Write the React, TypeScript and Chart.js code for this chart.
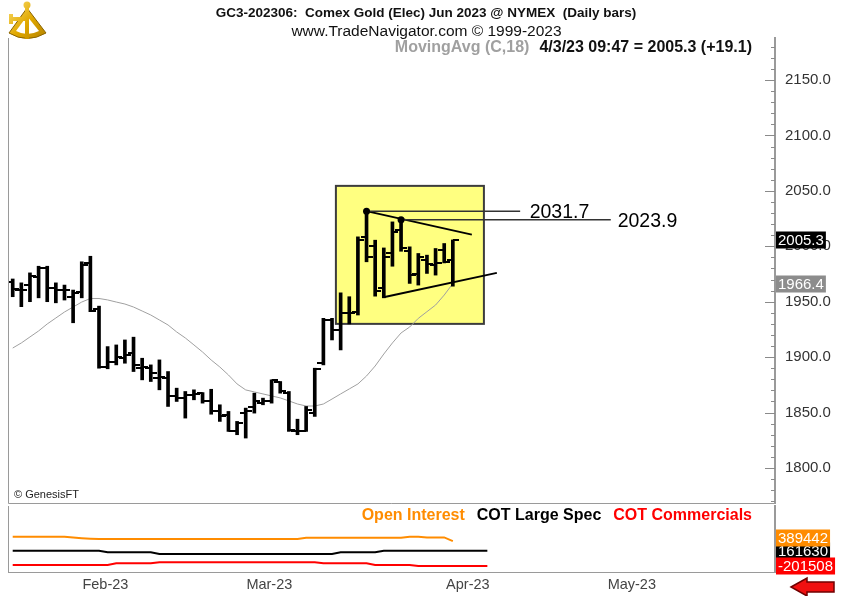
import React, { useEffect, useRef } from 'react';
import { Chart, registerables } from 'chart.js';

Chart.register(...registerables);

const FONT = "'Liberation Sans', Arial, Helvetica, sans-serif";

// ---- Daily OHLC bars (GC Jun 2023), Jan 19 .. Apr 3 2023 ----
const opens = [
  1968, 1960.5, 1965, 1972.5, 1980, 1962.5, 1960.5, 1954.5, 1959, 1985,
  1943, 1891.5, 1896, 1899, 1903.5, 1890, 1890, 1881, 1881, 1864.5,
  1863, 1866, 1867.5, 1860, 1851, 1848, 1833, 1849.5, 1855, 1858.5,
  1860, 1877.5, 1868, 1833, 1833.5, 1850, 1894.5, 1933.5, 1924.5, 1940,
  1941, 2008, 2000, 1962, 1993.5, 2015, 1996, 1975, 1988, 1983,
  1997, 1987.5,
];
const highs = [
  1970.5, 1967, 1976, 1982, 1982, 1967, 1965, 1960.5, 1986, 1991,
  1946, 1909.5, 1911, 1915.5, 1918, 1899, 1893, 1897.5, 1887, 1872,
  1869, 1870.5, 1868, 1871, 1857, 1851, 1842, 1854, 1867.5, 1863,
  1879.5, 1878, 1869, 1844, 1855.5, 1890, 1935, 1935, 1958, 1954.5,
  2008.5, 2031.7, 2005.5, 1998.5, 2022, 2023.9, 1999.5, 1993.5, 1992, 1998,
  2002.5, 2005.7,
];
const lows = [
  1954.5, 1945.5, 1950, 1953.5, 1950, 1949, 1951.5, 1931, 1953.5, 1941,
  1890, 1889.5, 1893, 1894.5, 1887, 1879.5, 1878, 1870.5, 1855.5, 1860,
  1845, 1861.5, 1858.5, 1848.5, 1842, 1833, 1830, 1827, 1849.5, 1857,
  1858.5, 1867.5, 1833, 1830, 1833, 1846.5, 1893, 1915.5, 1906.5, 1930,
  1938, 1986, 1955, 1953.5, 1982, 1995.5, 1966.5, 1965, 1975.5, 1974,
  1985, 1964,
];
const closes = [
  1961.5, 1961, 1973, 1980.5, 1962.5, 1960.5, 1961, 1958, 1983, 1942,
  1891.5, 1896, 1900.5, 1902, 1893, 1891.5, 1885.5, 1882.5, 1864.5, 1863,
  1866, 1867, 1860, 1851, 1846.5, 1833.5, 1840.5, 1851, 1860, 1860,
  1879, 1869, 1834, 1833, 1852.5, 1889, 1933.5, 1924.5, 1940, 1940,
  2006, 1990, 1960, 1990.5, 2013, 1998, 1974, 1990, 1984, 1985,
  1986.2, 2005.3,
];
// 18-period moving average of close
const movingAvg = [
  1908.2, 1912.8, 1918.2, 1923.6, 1929.9, 1935.3, 1940.7, 1945.2, 1949.7, 1952.9,
  1952.9, 1951.6, 1949.7, 1947.9, 1945.2, 1941.6, 1938.0, 1933.5, 1929.0, 1922.7,
  1917.3, 1911.0, 1904.6, 1897.4, 1891.1, 1883.9, 1875.8, 1870.4, 1868.6, 1866.8,
  1865.0, 1863.2, 1860.5, 1857.7, 1855.9, 1855.9, 1857.7, 1862.2, 1866.8, 1871.3,
  1875.8, 1883.0, 1892.0, 1902.8, 1912.8, 1921.8, 1927.2, 1935.0, 1941.0, 1947.0,
  1956.0, 1966.4,
];

// ---- lower panel (COT) ----
const openInterest = [
  491500, 491500, 491500, 491500, 491500, 491500, 491500, 475000, 460000, 448000,
  437000, 437000, 437000, 437000, 437000, 437000, 437000, 437000, 437000, 437000,
  437000, 437000, 437000, 437000, 437000, 437000, 437000, 437000, 437000, 437000,
  437000, 437000, 437000, 437000, 467800, 467800, 467800, 467800, 467800, 467800,
  467800, 467800, 467800, 467800, 467800, 467800, 491500, 491500, 477000, 477000,
  477000, 389442,
];
const cotLargeSpec = [
  161630, 161630, 161630, 161630, 161630, 161630, 161630, 161630, 161630, 161630,
  161630, 123700, 123700, 123700, 123700, 123700, 123700, 83300, 83300, 83300,
  83300, 83300, 83300, 83300, 83300, 83300, 83300, 83300, 83300, 83300,
  83300, 83300, 83300, 83300, 83300, 83300, 83300, 83300, 123700, 123700,
  123700, 123700, 123700, 161630, 161630, 161630, 161630, 161630, 161630, 161630,
  161630, 161630, 161630, 161630, 161630, 161630,
];
const cotCommercials = [
  -177800, -177800, -177800, -177800, -177800, -177800, -177800, -177800, -177800, -177800,
  -177800, -177800, -137400, -137400, -137400, -137400, -137400, -113700, -113700, -113700,
  -113700, -113700, -113700, -113700, -113700, -113700, -113700, -113700, -113700, -113700,
  -113700, -113700, -113700, -113700, -113700, -113700, -137400, -137400, -137400, -137400,
  -137400, -137400, -177800, -177800, -177800, -177800, -177800, -201508, -201508, -201508,
  -201508, -201508, -201508, -201508, -201508, -201508,
];

// ---- axes ----
const monthLabels = ['Feb-23', 'Mar-23', 'Apr-23', 'May-23'];
const monthStartIdx = [9, 28, 51, 70];
const priceTicks = [1800, 1850, 1900, 1950, 2000, 2050, 2100, 2150];
const X_MIN = -0.545;
const X_MAX = 88.33;
const PRICE_MIN = 1768.4;
const PRICE_MAX = 2187.9;
const COT_MIN = -343900;
const COT_MAX = 1222540;

// ---- annotations (data units) ----
const lastValue = 2005.3;
const maValue = 1966.4;
const highMarks = [
  { idx: 41, value: 2031.7, lineEnd: 58.8, textAt: 59.9 },
  { idx: 45, value: 2023.9, lineEnd: 69.3, textAt: 70.1 },
];
const box = { fromIdx: 37.45, toIdx: 54.6, low: 1930, high: 2054.5 };
const upperTrend = { fromIdx: 41, fromVal: 2031.7, toIdx: 53.2, toVal: 2010.5 };
const lowerTrend = { fromIdx: 43.1, fromVal: 1954.3, toIdx: 56.1, toVal: 1976 };

function makeTick(side: 'open' | 'close') {
  const c = document.createElement('canvas');
  c.width = 12;
  c.height = 2;
  const g = c.getContext('2d')!;
  g.fillStyle = '#000';
  if (side === 'open') g.fillRect(0, 0, 6, 2);
  else g.fillRect(6, 0, 6, 2);
  return c;
}

function drawBadge(ctx: CanvasRenderingContext2D, text: string, x: number, y: number, bg: string) {
  ctx.save();
  ctx.font = `15px ${FONT}`;
  const w = ctx.measureText(text).width + 4;
  ctx.fillStyle = bg;
  ctx.fillRect(x, Math.round(y) - 8.5, w, 17);
  ctx.fillStyle = '#fff';
  ctx.textBaseline = 'middle';
  ctx.textAlign = 'left';
  ctx.fillText(text, x + 2, Math.round(y) + 0.5);
  ctx.restore();
}

const noPad = (s: any) => {
  s.paddingTop = 0;
  s.paddingBottom = 0;
};

const priceDecor = {
  id: 'priceDecor',
  beforeDatasetsDraw(chart: any) {
    const { ctx, scales } = chart;
    const x = scales.x, y = scales.y;
    const x1 = x.getPixelForValue(box.fromIdx);
    const x2 = x.getPixelForValue(box.toIdx);
    const y1 = y.getPixelForValue(box.high);
    const y2 = y.getPixelForValue(box.low);
    ctx.save();
    ctx.fillStyle = '#FFFF80';
    ctx.fillRect(x1, y1, x2 - x1, y2 - y1);
    ctx.strokeStyle = '#3c3c3c';
    ctx.lineWidth = 2;
    ctx.strokeRect(x1, y1, x2 - x1, y2 - y1);
    ctx.restore();
  },
  afterDatasetsDraw(chart: any) {
    const { ctx, scales } = chart;
    const x = scales.x, y = scales.y;
    ctx.save();
    ctx.strokeStyle = '#000';
    ctx.lineWidth = 2;
    for (const t of [upperTrend, lowerTrend]) {
      ctx.beginPath();
      ctx.moveTo(x.getPixelForValue(t.fromIdx), y.getPixelForValue(t.fromVal));
      ctx.lineTo(x.getPixelForValue(t.toIdx), y.getPixelForValue(t.toVal));
      ctx.stroke();
    }
    ctx.strokeStyle = '#333';
    ctx.lineWidth = 1.5;
    for (const m of highMarks) {
      const py = y.getPixelForValue(m.value);
      ctx.beginPath();
      ctx.moveTo(x.getPixelForValue(m.idx), py);
      ctx.lineTo(x.getPixelForValue(m.lineEnd), py);
      ctx.stroke();
    }
    ctx.fillStyle = '#000';
    for (const m of highMarks) {
      ctx.beginPath();
      ctx.arc(x.getPixelForValue(m.idx), y.getPixelForValue(m.value), 3.5, 0, Math.PI * 2);
      ctx.fill();
    }
    ctx.font = `19.5px ${FONT}`;
    ctx.textBaseline = 'middle';
    ctx.textAlign = 'left';
    for (const m of highMarks) {
      ctx.fillText(m.value.toFixed(1), x.getPixelForValue(m.textAt), y.getPixelForValue(m.value) + 1.5);
    }
    ctx.restore();
  },
  afterDraw(chart: any) {
    const { ctx, chartArea, scales } = chart;
    const y = scales.y;
    ctx.save();
    // panel borders
    ctx.strokeStyle = '#9a9a9a';
    ctx.lineWidth = 1;
    ctx.beginPath();
    ctx.moveTo(8.5, chartArea.top);
    ctx.lineTo(8.5, chartArea.bottom + 0.5);
    ctx.lineTo(chartArea.right, chartArea.bottom + 0.5);
    ctx.stroke();
    // axis ticks (inside), every 10
    ctx.strokeStyle = '#8a8a8a';
    for (let v = 1770; v <= 2180; v += 10) {
      const py = Math.round(y.getPixelForValue(v)) + 0.5;
      const len = v % 50 === 0 ? 10 : 4;
      ctx.beginPath();
      ctx.moveTo(chartArea.right - len, py);
      ctx.lineTo(chartArea.right, py);
      ctx.stroke();
    }
    ctx.restore();
    drawBadge(ctx, lastValue.toFixed(1), chartArea.right + 1, y.getPixelForValue(lastValue), '#000');
    drawBadge(ctx, maValue.toFixed(1), chartArea.right + 1, y.getPixelForValue(maValue), '#8c8c8c');
    // logo (simple golden sextant)
    ctx.save();
    const grad = ctx.createLinearGradient(5, 0, 50, 45);
    grad.addColorStop(0, '#FFE680');
    grad.addColorStop(0.5, '#E0A800');
    grad.addColorStop(1, '#A87800');
    ctx.fillStyle = grad;
    ctx.strokeStyle = '#8a6400';
    ctx.lineWidth = 1;
    ctx.beginPath();
    ctx.moveTo(27, 8);
    ctx.lineTo(9, 33);
    ctx.quadraticCurveTo(27, 44, 46, 33);
    ctx.closePath();
    ctx.fill();
    ctx.stroke();
    ctx.fillStyle = '#fff';
    ctx.beginPath();
    ctx.moveTo(27, 16);
    ctx.lineTo(16, 31);
    ctx.quadraticCurveTo(27, 37, 39, 31);
    ctx.closePath();
    ctx.fill();
    ctx.fillStyle = grad;
    ctx.fillRect(25, 3, 4, 36);
    ctx.fillRect(11, 17, 16, 4);
    ctx.fillRect(9, 14, 4, 10);
    ctx.beginPath();
    ctx.arc(27, 5, 3.5, 0, Math.PI * 2);
    ctx.fill();
    ctx.restore();
  },
};

const cotDecor = {
  id: 'cotDecor',
  afterDraw(chart: any) {
    const { ctx, chartArea, scales } = chart;
    const y = scales.y;
    ctx.save();
    ctx.strokeStyle = '#9a9a9a';
    ctx.lineWidth = 1;
    ctx.beginPath();
    ctx.moveTo(8.5, chartArea.top);
    ctx.lineTo(8.5, chartArea.bottom);
    ctx.stroke();
    ctx.restore();
    const bx = chartArea.right + 1;
    const lsLast = cotLargeSpec[cotLargeSpec.length - 1];
    const oiLast = openInterest[openInterest.length - 1];
    const cmLast = cotCommercials[cotCommercials.length - 1];
    drawBadge(ctx, String(lsLast), bx, y.getPixelForValue(lsLast), '#000');
    drawBadge(ctx, String(oiLast), bx, y.getPixelForValue(oiLast) - 3, '#FF8C00');
    drawBadge(ctx, String(cmLast), bx, y.getPixelForValue(cmLast), '#FF0000');
    // red arrow
    ctx.save();
    const top = chartArea.bottom + 6;
    ctx.fillStyle = '#F01010';
    ctx.strokeStyle = '#700000';
    ctx.lineWidth = 1.5;
    ctx.beginPath();
    ctx.moveTo(791, top + 9);
    ctx.lineTo(807, top);
    ctx.lineTo(807, top + 4);
    ctx.lineTo(834, top + 4);
    ctx.lineTo(834, top + 14);
    ctx.lineTo(807, top + 14);
    ctx.lineTo(807, top + 18);
    ctx.closePath();
    ctx.fill();
    ctx.stroke();
    ctx.restore();
  },
};

export default function App() {
  const priceRef = useRef<HTMLCanvasElement>(null);
  const cotRef = useRef<HTMLCanvasElement>(null);

  useEffect(() => {
    const openTick = makeTick('open');
    const closeTick = makeTick('close');

    const price = new Chart(priceRef.current!, {
      type: 'bar',
      data: {
        datasets: [
          {
            type: 'bar',
            data: highs.map((h, i) => ({ x: i, y: [lows[i], h] })) as any,
            backgroundColor: '#000',
            borderWidth: 0,
            barThickness: 3,
            grouped: false,
            order: 3,
          } as any,
          {
            type: 'scatter',
            data: opens.map((v, i) => ({ x: i, y: v })),
            pointStyle: openTick as any,
            pointRadius: 3,
            order: 2,
          } as any,
          {
            type: 'scatter',
            data: closes.map((v, i) => ({ x: i, y: v })),
            pointStyle: closeTick as any,
            pointRadius: 3,
            order: 2,
          } as any,
          {
            type: 'line',
            data: movingAvg.map((v, i) => ({ x: i, y: v })),
            borderColor: '#a0a0a0',
            borderWidth: 1,
            pointRadius: 0,
            tension: 0,
            order: 4,
          } as any,
        ],
      },
      options: {
        animation: false,
        responsive: false,
        devicePixelRatio: 1,
        layout: { padding: { left: 8, top: 38, bottom: 2, right: 0 } },
        plugins: { legend: { display: false }, tooltip: { enabled: false } },
        scales: {
          x: { type: 'linear', min: X_MIN, max: X_MAX, display: false, offset: false },
          y: {
            type: 'linear',
            position: 'right',
            min: PRICE_MIN,
            max: PRICE_MAX,
            afterBuildTicks: (s: any) => {
              s.ticks = priceTicks.map((v) => ({ value: v }));
            },
            afterFit: (s: any) => {
              s.width = 68;
              noPad(s);
            },
            ticks: {
              callback: (v: any) => Number(v).toFixed(1),
              font: { family: FONT, size: 15 },
              color: '#333',
              padding: 10,
            },
            grid: { display: false, drawOnChartArea: false, drawTicks: false },
            border: { display: true, color: '#9a9a9a', width: 2 },
          },
        },
      } as any,
      plugins: [priceDecor],
    });

    const cot = new Chart(cotRef.current!, {
      type: 'line',
      data: {
        datasets: [
          {
            data: openInterest.map((v, i) => ({ x: i, y: v })),
            borderColor: '#FF8C00',
            borderWidth: 2,
            pointRadius: 0,
          },
          {
            data: cotLargeSpec.map((v, i) => ({ x: i, y: v })),
            borderColor: '#000',
            borderWidth: 2,
            pointRadius: 0,
          },
          {
            data: cotCommercials.map((v, i) => ({ x: i, y: v })),
            borderColor: '#FF0000',
            borderWidth: 2,
            pointRadius: 0,
          },
        ],
      },
      options: {
        animation: false,
        responsive: false,
        devicePixelRatio: 1,
        layout: { padding: { left: 8, top: 2, bottom: 0, right: 0 } },
        plugins: { legend: { display: false }, tooltip: { enabled: false } },
        scales: {
          x: {
            type: 'linear',
            min: X_MIN,
            max: X_MAX,
            afterBuildTicks: (s: any) => {
              s.ticks = monthStartIdx.map((v) => ({ value: v }));
            },
            afterFit: (s: any) => {
              s.height = 24;
            },
            ticks: {
              callback: (_v: any, i: number) => monthLabels[i],
              font: { family: FONT, size: 14.5 },
              color: '#444',
              padding: 4,
              labelOffset: 15,
              autoSkip: false,
              maxRotation: 0,
            },
            grid: { display: false, drawTicks: false },
            border: { display: true, color: '#9a9a9a', width: 1 },
          },
          y: {
            type: 'linear',
            position: 'right',
            min: COT_MIN,
            max: COT_MAX,
            afterFit: (s: any) => {
              s.width = 68;
              noPad(s);
            },
            ticks: { display: false },
            grid: { display: false, drawTicks: false },
            border: { display: true, color: '#9a9a9a', width: 2 },
          },
        },
      } as any,
      plugins: [cotDecor],
    });

    return () => {
      price.destroy();
      cot.destroy();
    };
  }, []);

  const abs = (s: React.CSSProperties): React.CSSProperties => ({
    position: 'absolute',
    whiteSpace: 'nowrap',
    fontFamily: FONT,
    ...s,
  });

  return (
    <div
      style={{
        position: 'fixed',
        left: 0,
        top: 0,
        width: 843,
        height: 596,
        background: '#fff',
        overflow: 'hidden',
        fontFamily: FONT,
      }}
    >
      <canvas ref={priceRef} width={843} height={508} style={{ position: 'absolute', left: 0, top: 0 }} />
      <canvas ref={cotRef} width={843} height={92} style={{ position: 'absolute', left: 0, top: 504 }} />

      <div style={abs({ left: 426, top: 12, transform: 'translate(-50%, -50%)', fontSize: 13.5, fontWeight: 'bold', color: '#111' })}>
        GC3-202306:&nbsp; Comex Gold (Elec) Jun 2023 @ NYMEX&nbsp; (Daily bars)
      </div>
      <div style={abs({ left: 426.5, top: 31, transform: 'translate(-50%, -50%)', fontSize: 15.5, color: '#111' })}>
        www.TradeNavigator.com © 1999-2023
      </div>
      <div style={abs({ right: 91, top: 47, transform: 'translateY(-50%)', fontSize: 16, fontWeight: 'bold' })}>
        <span style={{ color: '#a0a0a0' }}>MovingAvg (C,18)</span>
        <span style={{ color: '#111', marginLeft: 10 }}>4/3/23 09:47 = 2005.3 (+19.1)</span>
      </div>
      <div style={abs({ left: 14, top: 494, transform: 'translateY(-50%)', fontSize: 11, color: '#222' })}>
        © GenesisFT
      </div>
      <div style={abs({ right: 91, top: 515, transform: 'translateY(-50%)', fontSize: 16, fontWeight: 'bold' })}>
        <span style={{ color: '#FF8C00' }}>Open Interest</span>
        <span style={{ color: '#000', marginLeft: 12 }}>COT Large Spec</span>
        <span style={{ color: '#FF0000', marginLeft: 12 }}>COT Commercials</span>
      </div>
    </div>
  );
}
